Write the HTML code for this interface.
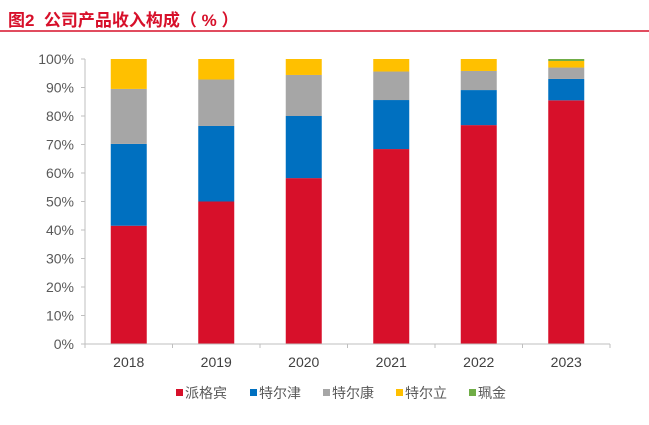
<!DOCTYPE html>
<html><head><meta charset="utf-8"><style>
body{margin:0;background:#fff;width:649px;height:420px;overflow:hidden;font-family:"Liberation Sans","Noto Sans CJK SC",sans-serif}
</style></head><body>
<svg width="649" height="420" style="font-family:'Liberation Sans','Noto Sans CJK SC',sans-serif">
<text x="8" y="26" fill="#d7102a" font-size="17" font-weight="bold" xml:space="preserve">图2  公司产品收入构成（ % ）</text>
<line x1="0" y1="31" x2="649" y2="31" stroke="#d7102a" stroke-width="1.5"/>
<g id="plot"></g>
<g id="legend"></g>
</svg>
<script>
const categories=["2018","2019","2020","2021","2022","2023"];
const seriesNames=["派格宾","特尔津","特尔康","特尔立","珮金"];
const colors=["#d7102a","#0070c0","#a6a6a6","#ffc000","#70ad47"];
const s1=[41.5,50,58.2,68.4,76.8,85.5];
const s2=[28.7,26.5,21.8,17.2,12.3,7.5];
const s3=[19.3,16.3,14.4,10.0,6.7,4.0];
const s4=[10.5,7.2,5.6,4.4,4.2,2.3];
const s5=[0,0,0,0,0,0.7];
const yTicks=[0,10,20,30,40,50,60,70,80,90,100];
const series=[s1,s2,s3,s4,s5];
const NS="http://www.w3.org/2000/svg";
const x0=85,x1=610,y0=344,y100=59;
const band=(x1-x0)/categories.length,bw=36;
const y=v=>y0-(y0-y100)*v/100;
const xc=i=>x0+band*(i+0.5);
const g=document.getElementById('plot');
function mk(t,a,p){const e=document.createElementNS(NS,t);for(const k in a)e.setAttribute(k,a[k]);(p||g).appendChild(e);return e;}
yTicks.forEach(v=>{
 const t=mk('text',{x:74,y:y(v)+5,'text-anchor':'end','font-size':14,fill:'#595959'});
 
 
 t.textContent=v+'%';
 const l=mk('line',{x1:81,x2:85,y1:y(v),y2:y(v),stroke:'#bfbfbf'});
 
 
});
const ya=mk('line',{x1:85,x2:85,y1:y100,y2:y0,stroke:'#bfbfbf'});


categories.forEach((c,i)=>{
 let acc=0;
 series.forEach((s,k)=>{
  if(s[i]<=0)return;
  const r=mk('rect',{x:xc(i)-bw/2,y:y(acc+s[i]),width:bw,height:y(acc)-y(acc+s[i]),fill:colors[k]});
  
  
  acc+=s[i];
 });
 const t=mk('text',{x:xc(i),y:367,'text-anchor':'middle','font-size':14,fill:'#404040'});
 
 
 t.textContent=c;
});
for(let i=0;i<=categories.length;i++){
 const l=mk('line',{x1:x0+band*i,x2:x0+band*i,y1:y0,y2:y0+4,stroke:'#bfbfbf'});
 
 
}
const xa=mk('line',{x1:x0,x2:x1,y1:y0,y2:y0,stroke:'#bfbfbf'});


const lg=document.getElementById('legend');
const lx=[176,250,323,396,469];
seriesNames.forEach((n,k)=>{
 const gg=mk('g',{},lg);
 
 
 mk('rect',{x:lx[k],y:389,width:7,height:7,fill:colors[k]},gg);
 const t=mk('text',{x:lx[k]+9,y:398,'font-size':14,fill:'#595959'},gg);
 t.textContent=n;
});
</script>
</body></html>
